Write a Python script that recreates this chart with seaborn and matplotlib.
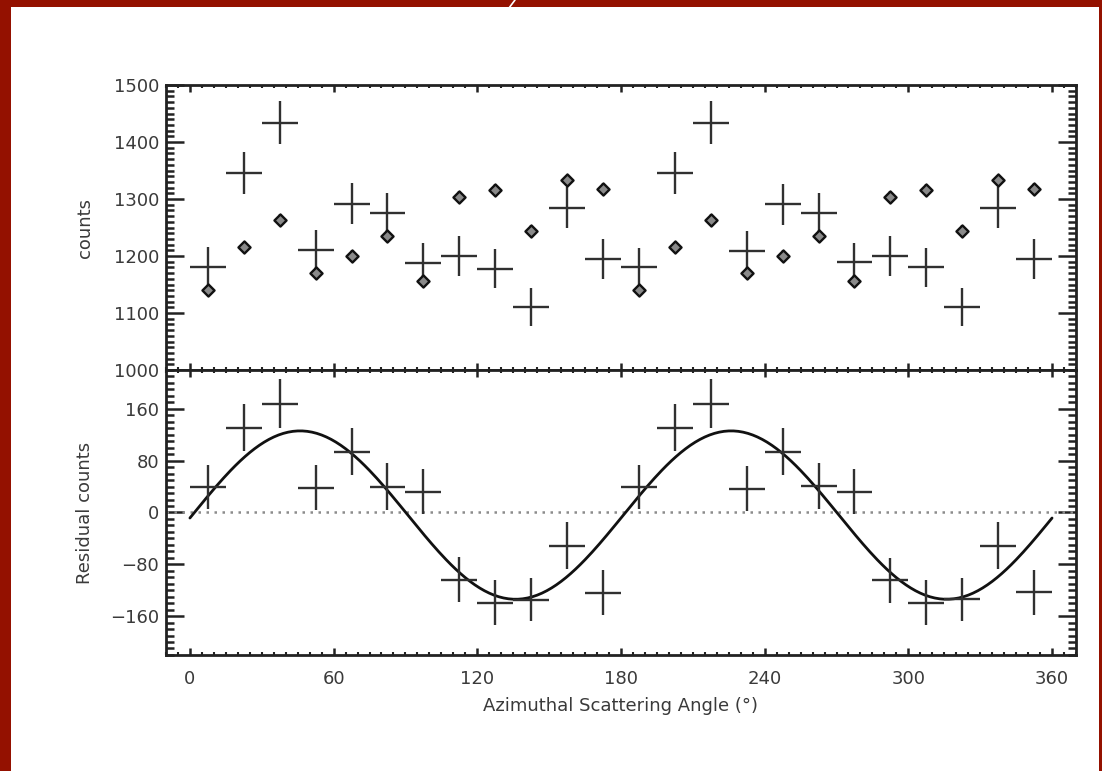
import numpy as np
import pandas as pd
import seaborn as sns
import matplotlib
matplotlib.use("Agg")
from matplotlib import pyplot as plt
from matplotlib.patches import Rectangle
from matplotlib.lines import Line2D
from matplotlib.ticker import MultipleLocator

# bin centres (deg)
angle = [7.5, 22.5, 37.5, 52.5, 67.5, 82.5, 97.5, 112.5, 127.5, 142.5, 157.5, 172.5,
         187.5, 202.5, 217.5, 232.5, 247.5, 262.5, 277.5, 292.5, 307.5, 322.5, 337.5, 352.5]
# measured counts (crosses)
counts = [1181, 1345, 1434, 1210, 1292, 1275, 1188, 1200, 1178, 1110, 1285, 1195,
          1180, 1345, 1434, 1209, 1291, 1275, 1189, 1200, 1180, 1110, 1285, 1195]
# unpolarised model counts (diamonds)
model_counts = [1140, 1215, 1263, 1171, 1200, 1235, 1156, 1304, 1316, 1244, 1333, 1318,
                1140, 1215, 1264, 1171, 1200, 1235, 1156, 1304, 1316, 1244, 1333, 1318]
# residual counts (lower panel)
residual = [39, 131, 168, 38, 94, 40, 32, -104, -139, -135, -51, -124,
            39, 131, 168, 37, 94, 41, 32, -105, -139, -134, -51, -123]
model_err = 10
bin_half_width = 7.5

# fitted modulation curve parameters
fit_amplitude = 130
fit_phase = 46
fit_offset = -4

df = pd.DataFrame({"angle": angle, "counts": counts, "model": model_counts,
                   "residual": residual})
df["err"] = np.sqrt(df["counts"])

phi = np.linspace(0, 360, 361)
fit = pd.DataFrame({"angle": phi,
                    "value": fit_offset + fit_amplitude * np.cos(np.radians(2 * (phi - fit_phase)))})

sns.set_style("ticks")
plt.rcParams["font.family"] = ["DejaVu Sans"]
ink = "#303030"
txt = "#3a3a3a"

fig = plt.figure(figsize=(11.02, 7.71), dpi=100)
fig.patch.set_facecolor("#941100")
fig.add_artist(Rectangle((11 / 1102, 0), (1099 - 11) / 1102, (771 - 7) / 771,
                         transform=fig.transFigure, facecolor="white", edgecolor="none", zorder=-5))
fig.add_artist(Line2D([509 / 1102, 515 / 1102], [(771 - 8) / 771, 1.0],
                      transform=fig.transFigure, color="white", lw=1.2))

ax1 = fig.add_axes([0.1506, 0.5201, 0.8258, 0.3696])
ax2 = fig.add_axes([0.1506, 0.1505, 0.8258, 0.3696], sharex=ax1)

# upper panel
ax1.errorbar(df["angle"], df["counts"], xerr=bin_half_width, yerr=df["err"],
             fmt="none", ecolor=ink, elinewidth=1.7, capsize=0, zorder=3)
ax1.errorbar(df["angle"], df["model"], yerr=model_err, fmt="none",
             ecolor="#111111", elinewidth=1.7, capsize=0, zorder=3)
sns.scatterplot(data=df, x="angle", y="model", marker="D", s=38, color="#8a8a8a",
                edgecolor="#111111", linewidth=1.7, ax=ax1, zorder=4)
ax1.set_ylim(1000, 1500)
ax1.set_ylabel("counts", fontsize=13, color=txt)
ax1.set_xlabel("")
ax1.yaxis.set_major_locator(MultipleLocator(100))
ax1.yaxis.set_minor_locator(MultipleLocator(10))
ax1.tick_params(axis="x", labelbottom=False)

# lower panel
ax2.axhline(0, color="#8c8c8c", lw=1.8, ls=(0, (1, 2.2)), zorder=1)
sns.lineplot(data=fit, x="angle", y="value", color="#111111", lw=2, ax=ax2, zorder=2)
ax2.errorbar(df["angle"], df["residual"], xerr=bin_half_width, yerr=df["err"],
             fmt="none", ecolor=ink, elinewidth=1.7, capsize=0, zorder=3)
ax2.set_ylim(-220, 220)
ax2.set_xlim(-10, 370)
ax2.set_ylabel("Residual counts", fontsize=13, color=txt)
ax2.set_xlabel("Azimuthal Scattering Angle (°)", fontsize=13, color=txt, labelpad=6)
ax2.yaxis.set_major_locator(MultipleLocator(80))
ax2.yaxis.set_minor_locator(MultipleLocator(10))
ax2.set_yticks([-160, -80, 0, 80, 160])
ax2.set_yticklabels(["\u2212160", "\u221280", "0", "80", "160"])
ax2.xaxis.set_major_locator(MultipleLocator(60))
ax2.xaxis.set_minor_locator(MultipleLocator(5))

for ax in (ax1, ax2):
    for s in ax.spines.values():
        s.set_visible(True)
        s.set_linewidth(2)
        s.set_color("#222222")
    ax.tick_params(axis="both", which="both", direction="in", top=True, right=True,
                   colors="#222222", labelcolor=txt, labelsize=13)
    ax.tick_params(axis="y", which="major", length=13, width=1.8, pad=5)
    ax.tick_params(axis="y", which="minor", length=6, width=1.8)
    ax.tick_params(axis="x", which="major", length=5, width=1.8, pad=11)
    ax.tick_params(axis="x", which="minor", length=2.5, width=1.5)
    ax.yaxis.set_label_coords(-0.079, 0.5)
    ax.grid(False)

fig.savefig("out.png", dpi=100, facecolor=fig.get_facecolor())
